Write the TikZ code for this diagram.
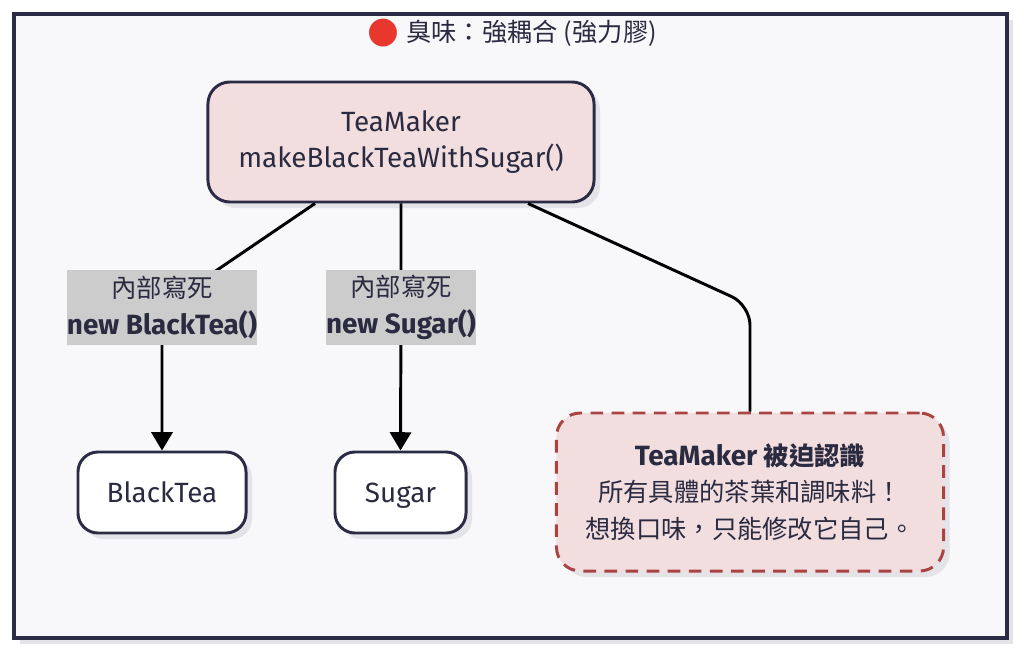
\documentclass[tikz,border=0pt]{standalone}
\usepackage{fontspec}
\setmainfont{Fira Sans}[Scale=1.1]
\newfontfamily\cjk{Noto Sans CJK TC}
\newfontfamily\symb{DejaVu Sans}
\usetikzlibrary{shapes,arrows.meta,positioning,shadows}
\definecolor{framecol}{HTML}{2B2B45}
\definecolor{txtcol}{HTML}{2A2A40}
\definecolor{bgcol}{HTML}{F8F8FA}
\definecolor{pinkcol}{HTML}{F2DEDF}
\definecolor{notecol}{HTML}{A94442}
\definecolor{lblcol}{HTML}{CCCCCC}
\definecolor{shadecol}{HTML}{E4E4E8}
\definecolor{dotred}{HTML}{E8382E}

\begin{document}
\begin{tikzpicture}[x=0.025cm,y=-0.025cm,
  box/.style={rectangle,rounded corners=0.5cm,draw=framecol,line width=2.1pt,text=txtcol,align=center,
    font=\fontsize{18}{26}\selectfont,
    drop shadow={shadow xshift=0.15cm,shadow yshift=-0.15cm,fill=shadecol,opacity=1}},
  lbl/.style={rectangle,fill=lblcol,text=txtcol,align=center,inner sep=0pt,font=\fontsize{18}{26}\selectfont},
  edge/.style={line width=2.1pt,black},
  arr/.style={edge,-{Triangle[width=15pt,length=13pt]}}]
\useasboundingbox (0,0) rectangle (1024,655);
\fill[white] (0,0) rectangle (1024,655);
% frame
\fill[shadecol] (20,20) rectangle (1013,644);
\draw[framecol,fill=bgcol,line width=2.6pt] (14,14) rectangle (1007,638);
\node[text=txtcol,font=\fontsize{18}{26}\selectfont] (title) at (512,33)
  {{\symb\fontsize{26}{26}\selectfont\raisebox{-0.5pt}{\color{dotred}●}} {\cjk 臭味：強耦合 (強力膠)}};

% nodes
\node[box,fill=pinkcol,minimum width=9.65cm,minimum height=3cm,rounded corners=0.55cm] (tm) at (401,142)
  {TeaMaker\\makeBlackTeaWithSugar()};
\node[box,fill=white,minimum width=4.2cm,minimum height=2.025cm] (bt) at (162,492.5) {BlackTea};
\node[box,fill=white,minimum width=3.275cm,minimum height=2.025cm,text depth=0pt] (sg) at (400.5,492.5) {Sugar};
\node[box,fill=pinkcol,draw=notecol,dashed,dash pattern=on 9pt off 6pt,
  minimum width=9.675cm,minimum height=3.95cm,rounded corners=0.6cm] (note) at (750,492)
  {\bfseries TeaMaker {\cjk 被迫認識}\\{\cjk 所有具體的茶葉和調味料！}\\{\cjk 想換口味，只能修改它自己。}};

% edges
\coordinate (kbt) at (162,307.5);
\coordinate (ksg) at (401,307.5);
\coordinate (kn) at (750,305);
\draw[arr] ([xshift=-2.15cm]tm.south) -- (kbt) -- (bt.north);
\draw[arr] (tm.south) -- (ksg) -- (sg.north);
\draw[edge,rounded corners=0.5cm] ([xshift=3.175cm]tm.south) -- (kn) -- (kn |- note.north);

% labels
\node[lbl,minimum width=4.7cm,minimum height=1.875cm] (lbt) at (kbt)
  {{\cjk 內部寫死}\\\bfseries new BlackTea()};
\node[lbl,minimum width=3.75cm,minimum height=1.875cm] (lsg) at (ksg)
  {{\cjk 內部寫死}\\\bfseries new Sugar()};
\end{tikzpicture}
\end{document}
